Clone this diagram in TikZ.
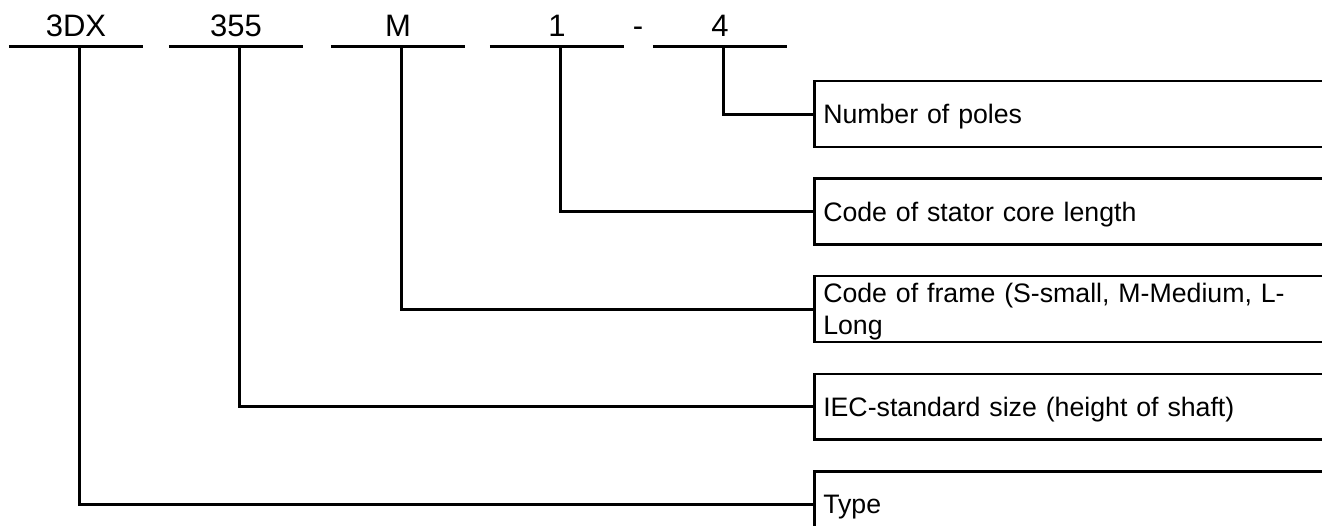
\documentclass[tikz,border=0pt]{standalone}
\usepackage{fontspec}
\setmainfont{Liberation Sans}
\usetikzlibrary{positioning}

\begin{document}
\begin{tikzpicture}[x=1pt,y=-1pt,
    line/.style={line width=3pt},
    code/.style={minimum width=134pt,inner ysep=10pt,text depth=0pt,anchor=south,font=\fontsize{31}{37}\selectfont},
    field/.style={draw,line width=2.5pt,anchor=north west,text width=560pt,align=left,inner xsep=9pt,inner ysep=2pt,minimum height=65.7pt,text height=24pt,text depth=4.5pt,font=\fontsize{26.7}{32}\selectfont}]
\clip (0,0) rectangle (1322,526);
\node[code] (c_type) at (76,47) {3DX};
\node[code] (c_size) at (236,47) {355};
\node[code] (c_frame) at (398,47) {M};
\node[code] (c_core) at (557,47) {1};
\node[code] (c_poles) at (720,47) {4};
\node[font=\fontsize{31}{37}\selectfont,anchor=base] (dash) at (638,37) {-};

\node[field] (poles) at (813,80) {Number of poles};
\node[field] (core) at (813,177.5) {Code of stator core length};
\node[field,text depth=36.5pt] (frame) at (813,275) {Code of frame (S-small, M-Medium, L-\\Long};
\node[field] (size) at (813,372.5) {IEC-standard size (height of shaft)};
\node[field] (type) at (813,470) {Type};

\draw[line] (c_type.south west) -- (c_type.south east);
\draw[line] (c_size.south west) -- (c_size.south east);
\draw[line] (c_frame.south west) -- (c_frame.south east);
\draw[line] (c_core.south west) -- (c_core.south east);
\draw[line] (c_poles.south west) -- (c_poles.south east);

\draw[line] ([xshift=3pt]c_poles.south) |- (poles.west);
\draw[line] ([xshift=3pt]c_core.south) |- (core.west);
\draw[line] ([xshift=3pt]c_frame.south) |- (frame.west);
\draw[line] ([xshift=3pt]c_size.south) |- (size.west);
\draw[line] ([xshift=3pt]c_type.south) |- (type.west);
\end{tikzpicture}
\end{document}
